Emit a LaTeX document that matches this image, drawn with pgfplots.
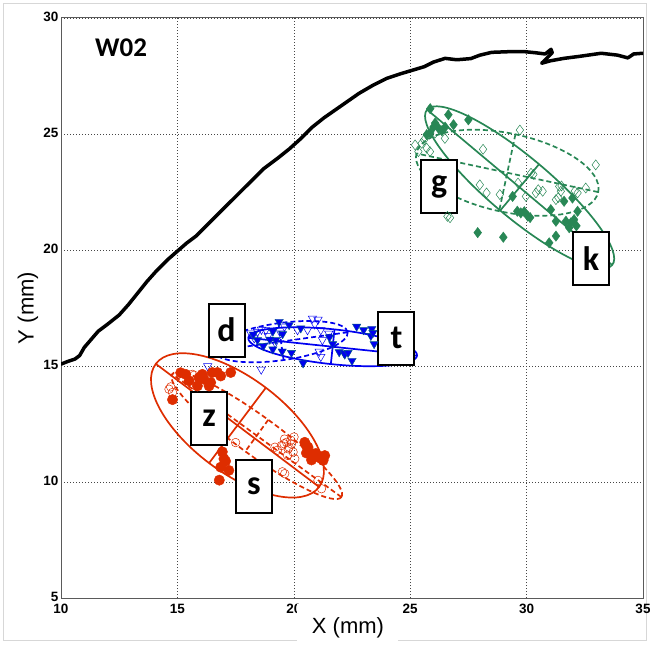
\documentclass[border=0pt]{standalone}
\usepackage{pgfplots}
\pgfplotsset{compat=1.18}
\usepackage{pgfplotstable}
\usepackage{fontspec}
\setmainfont{Liberation Sans}
\newfontfamily\calibri{Carlito}
\newfontfamily\tickfont{Liberation Sans}[BoldFont={Liberation Sans Bold}]
\definecolor{gr}{RGB}{40,135,85}
\definecolor{bl}{RGB}{0,0,240}
\definecolor{blE}{RGB}{0,90,130}
\definecolor{rd}{RGB}{222,45,0}
\definecolor{framec}{RGB}{215,215,215}

\pgfplotstableread{
x y
10.0 15.08
10.3 15.2
10.6 15.3
10.8 15.45
11.0 15.8
11.3 16.15
11.6 16.5
12.0 16.8
12.5 17.2
12.9 17.65
13.3 18.15
13.7 18.65
14.1 19.1
14.6 19.6
15.0 19.95
15.4 20.3
15.8 20.6
16.3 21.1
16.9 21.7
17.4 22.2
17.8 22.6
18.3 23.1
18.7 23.5
19.3 23.95
19.8 24.35
20.3 24.8
20.8 25.3
21.3 25.7
21.8 26.05
22.3 26.4
22.8 26.75
23.4 27.1
24.0 27.4
24.6 27.6
25.1 27.75
25.6 27.9
26.0 28.1
26.5 28.26
27.0 28.2
27.6 28.25
28.0 28.4
28.5 28.52
29.3 28.55
29.9 28.55
30.4 28.5
30.8 28.45
31.05 28.65
31.1 28.5
30.65 28.05
31.0 28.15
31.6 28.26
32.3 28.35
33.2 28.48
33.9 28.4
34.35 28.28
34.6 28.45
35.0 28.48
}\curve

\pgfplotstableread{
x y
25.86 26.09
26.64 25.83
27.5 25.61
26.86 25.4
26.07 25.47
26.21 25.26
25.86 25.04
25.71 24.97
26.36 25.14
26.0 25.3
26.5 25.3
29.4 22.31
29.6 21.67
29.75 21.6
29.9 21.65
30.05 21.46
30.15 21.4
31.04 21.74
31.26 21.24
31.61 22.1
31.97 22.24
32.19 21.67
31.69 21.24
31.9 21.17
32.04 21.31
32.14 21.04
31.83 20.96
31.26 20.6
30.97 20.31
27.9 20.75
29.0 20.55
}\kdata

\pgfplotstableread{
x y
25.21 24.53
25.49 24.6
25.71 24.39
25.85 24.24
25.35 24.24
25.6 24.75
26.49 24.81
26.07 25.04
28.13 24.34
29.71 25.17
27.99 22.81
28.28 22.46
28.85 22.39
26.71 21.39
26.6 21.45
29.63 22.89
30.19 23.31
30.29 23.26
29.97 22.31
30.4 22.46
30.69 22.53
30.5 22.6
31.4 22.74
31.47 22.53
31.26 22.17
31.5 22.76
32.19 22.46
32.54 22.67
32.07 22.54
32.97 23.67
31.36 22.26
}\gdata

\pgfplotstableread{
x y
19.37 16.91
19.8 16.77
20.3 16.63
19.1 16.49
19.52 16.38
18.44 16.12
19.23 16.12
18.97 16.14
18.69 15.86
19.1 15.72
19.5 15.63
19.9 15.57
20.4 15.12
21.53 16.24
21.67 15.95
21.95 15.6
22.16 15.55
22.19 15.5
22.5 15.23
22.33 15.57
22.7 16.7
23.0 16.55
23.35 16.6
23.31 16.3
23.45 15.95
23.4 16.43
18.26 16.36
}\tdata

\pgfplotstableread{
x y
16.3 15.0
18.6 14.85
18.15 16.41
18.44 16.48
18.61 16.57
18.8 16.55
18.3 16.2
18.9 16.3
19.44 16.41
19.2 16.0
20.16 16.55
20.59 16.55
20.8 17.05
21.04 17.0
20.9 16.8
21.16 16.55
21.23 16.12
21.09 15.62
21.16 15.4
21.5 16.4
19.6 16.7
}\ddata

\pgfplotstableread{
x y
14.79 13.55
15.14 14.71
15.36 14.64
15.5 14.36
15.86 14.14
15.93 14.5
16.07 14.64
16.14 14.43
16.36 14.14
16.5 14.72
16.72 14.72
16.86 14.57
17.29 14.72
16.43 14.29
16.93 11.3
17.0 11.0
17.07 10.9
16.86 10.64
17.21 10.5
16.8 10.08
20.47 11.71
20.52 11.6
20.61 11.5
20.54 11.25
20.83 11.21
20.76 10.95
21.04 11.07
21.26 10.93
21.33 11.14
20.95 11.23
21.16 11.08
}\zdata

\pgfplotstableread{
x y
14.64 14.0
14.79 13.86
14.71 14.1
15.64 14.64
15.72 14.6
16.14 14.57
17.5 11.7
19.19 11.5
19.3 11.37
19.47 11.57
19.58 11.65
19.69 11.71
19.76 11.43
19.87 11.8
19.9 11.64
19.97 11.29
20.01 11.94
20.04 11.0
19.73 11.15
19.61 10.36
19.51 10.44
21.04 10.07
21.19 9.71
19.8 11.5
19.6 11.85
}\sdata

% style, cx, cy, a, b, angle
\newcommand\ellip[6]{%
 \draw[#1, rotate around={#6:(axis cs:#2,#3)}] (axis cs:#2,#3) ellipse [x radius={#4*23.24pt}, y radius={#5*23.24pt}];
 \draw[#1] (axis cs:#2,#3) ++({#6}:{#4*23.24pt}) -- ++({#6+180}:{2*#4*23.24pt});
 \draw[#1] (axis cs:#2,#3) ++({#6+90}:{#5*23.24pt}) -- ++({#6+270}:{2*#5*23.24pt});
}

\tikzset{lbox/.style={draw=black, line width=2pt, fill=white, minimum width=36pt, minimum height=53pt, inner sep=0pt, font=\calibri\bfseries\fontsize{34}{36}\selectfont}}

\begin{document}
\begin{tikzpicture}
\path[use as bounding box] (-61pt,-47pt) rectangle (589pt,598pt);
\draw[framec, line width=1pt] (-57pt,-42pt) rectangle (585pt,594pt);
\begin{axis}[
  at={(0pt,0pt)}, anchor=south west,
  scale only axis, width=582pt, height=580pt,
  xmin=10, xmax=35, ymin=5, ymax=30,
  xtick={10,15,20,25,30,35}, ytick={5,10,15,20,25,30},
  xticklabels={10,15,20,25,30,35},
  yticklabels={5,10,15,20,25,30},
  grid=major,
  major grid style={draw={rgb,255:red,70;green,70;blue,70}, line width=0.6pt, dash pattern=on 1pt off 2pt},
  axis line style={draw={rgb,255:red,90;green,90;blue,90}, line width=1pt},
  tick style={draw=none},
  tick label style={font=\tickfont\bfseries\fontsize{13.5}{15}\selectfont},
  xticklabel style={yshift=-3pt},
  yticklabel style={xshift=1pt, yshift=1pt},
]
\ellip{gr, line width=1.7pt}{29.7}{22.7}{5.2}{1.3}{-40}
\ellip{gr, line width=1.7pt, dash pattern=on 5pt off 3pt}{29.17}{23.33}{4.0}{1.69}{-12}
\ellip{bl, line width=1.7pt}{21.67}{15.83}{3.65}{0.75}{-6}
\ellip{bl, line width=1.7pt, dash pattern=on 5pt off 3pt}{19.45}{16.05}{2.9}{0.8}{8}
\ellip{rd, line width=1.7pt}{17.58}{12.44}{4.4}{2.03}{-37}
\ellip{rd, line width=1.7pt, dash pattern=on 5pt off 3pt}{18.41}{12.0}{4.5}{0.84}{-36}

\addplot[only marks, mark=diamond, mark size=5pt, mark options={draw=gr, line width=0.5pt, fill=none}] table {\gdata};
\addplot[only marks, mark=diamond*, mark size=5.2pt, mark options={draw=gr, fill=gr}] table {\kdata};
\addplot[only marks, mark=triangle, mark size=4.8pt, mark options={draw=bl, line width=0.5pt, fill=none, rotate=180}] table {\ddata};
\addplot[only marks, mark=triangle*, mark size=4.8pt, mark options={draw=blE, fill=bl, rotate=180}] table {\tdata};
\addplot[only marks, mark=o, mark size=4.3pt, mark options={draw=rd, line width=0.5pt, fill=none}] table {\sdata};
\addplot[only marks, mark=*, mark size=5.2pt, mark options={draw=rd, fill=rd}] table {\zdata};

\addplot[black, line width=3.5pt, line join=round, line cap=round, mark=none] table {\curve};

\node[font=\calibri\bfseries\fontsize{27}{30}\selectfont] at (axis cs:12.58,28.7) {W02};
\node[lbox] at (axis cs:26.24,22.72) {g};
\node[lbox] at (axis cs:32.77,19.63) {k};
\node[lbox] at (axis cs:17.11,16.55) {d};
\node[lbox] at (axis cs:24.41,16.19) {t};
\node[lbox] at (axis cs:16.36,12.74) {z};
\node[lbox] at (axis cs:18.29,9.81) {s};
\end{axis}
\fill[white] (236pt,-6pt) rectangle (337pt,-48pt);
\node[font=\fontsize{22}{24}\selectfont] at (287pt,-30pt) {X (mm)};
\node[font=\fontsize{22}{24}\selectfont, rotate=90] at (-33pt,290pt) {Y (mm)};
\end{tikzpicture}
\end{document}
